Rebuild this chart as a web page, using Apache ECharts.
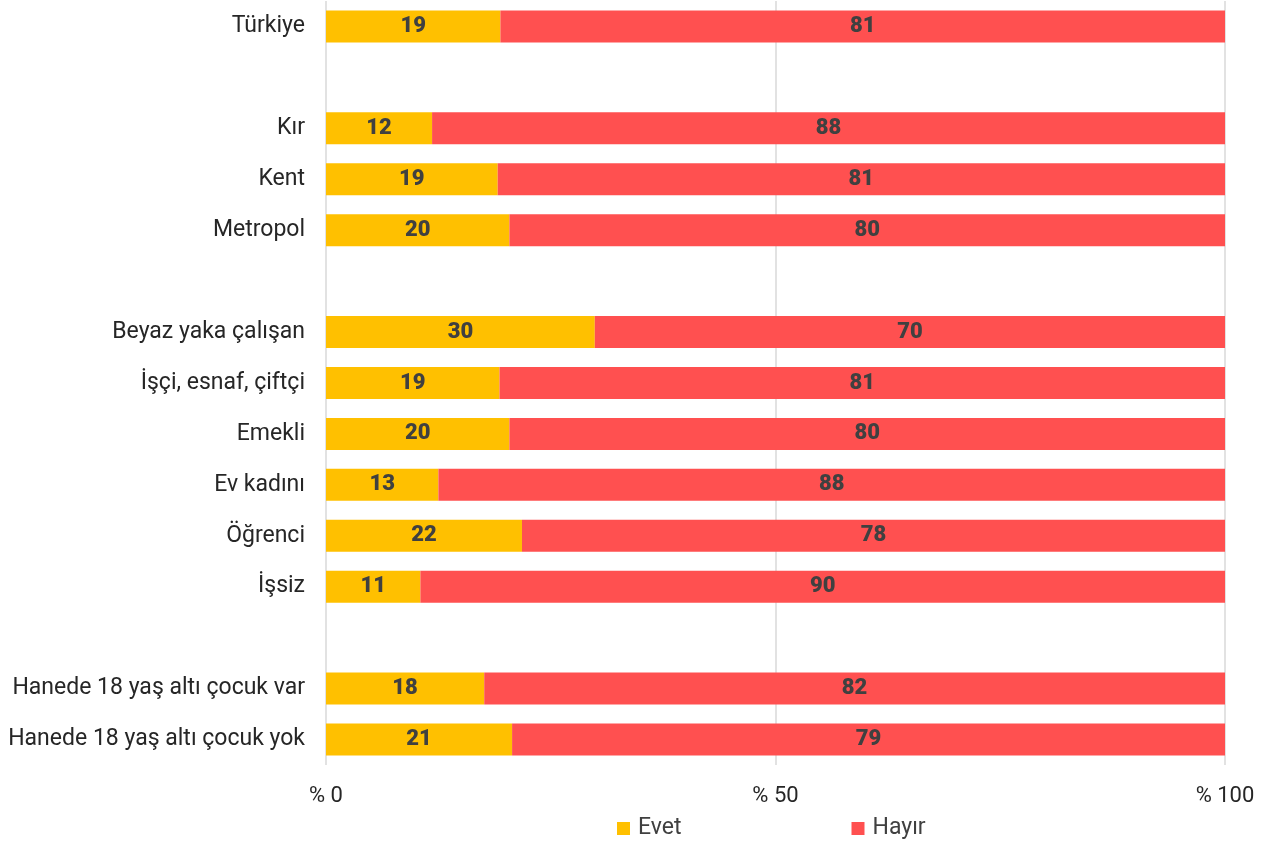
<!DOCTYPE html>
<html>
<head>
<meta charset="utf-8">
<script src="https://cdn.jsdelivr.net/npm/echarts@6/dist/echarts.min.js"></script>
<style>html,body{margin:0;padding:0;background:#fff;}#c{width:1281px;height:844px;}</style>
</head>
<body>
<div id="c"></div>
<script>
const categories = ['Türkiye', '', 'Kır', 'Kent', 'Metropol', ' ', 'Beyaz yaka çalışan', 'İşçi, esnaf, çiftçi', 'Emekli', 'Ev kadını', 'Öğrenci', 'İşsiz', '  ', 'Hanede 18 yaş altı çocuk var', 'Hanede 18 yaş altı çocuk yok'];
const evet =  [19.4, null, 11.8, 19.1, 20.4, null, 29.9, 19.3, 20.4, 12.5, 21.8, 10.5, null, 17.6, 20.7];
const hayir = [80.6, null, 88.2, 80.9, 79.6, null, 70.1, 80.7, 79.6, 87.5, 78.2, 89.5, null, 82.4, 79.3];
const xTicks = [0, 50, 100];

const font = 'Roboto, "Liberation Sans", sans-serif';
const labelStyle = {
  show: true, position: 'inside', color: '#404040', fontFamily: font,
  fontWeight: 900, fontSize: 22,
  formatter: p => p.value == null ? '' : Math.round(p.value)
};
const chart = echarts.init(document.getElementById('c'), null, {renderer: 'canvas'});
chart.setOption({
  animation: false,
  grid: {left: 326, right: 56, top: 1, height: 764, containLabel: false},
  legend: {
    data: ['Evet', 'Hayır'], top: 812, left: 612, itemGap: 170,
    itemWidth: 13, itemHeight: 13, icon: 'rect',
    textStyle: {fontFamily: font, fontSize: 23, color: '#404040', padding: [0, 0, 0, 3]}
  },
  xAxis: {
    type: 'value', min: 0, max: 100, interval: 50,
    axisLine: {show: false}, axisTick: {show: false},
    splitLine: {show: true, lineStyle: {color: '#d9d9d9', width: 1.5}},
    axisLabel: {fontFamily: font, fontSize: 22, color: '#262626', margin: 20,
      formatter: v => xTicks.includes(v) ? '% ' + v : ''}
  },
  yAxis: {
    type: 'category', data: categories, inverse: true,
    axisLine: {show: false}, axisTick: {show: false},
    axisLabel: {fontFamily: font, fontSize: 23, color: '#262626', margin: 21}
  },
  series: [
    {name: 'Evet', type: 'bar', stack: 's', data: evet, barWidth: 32,
     itemStyle: {color: '#FFC000'}, label: labelStyle},
    {name: 'Hayır', type: 'bar', stack: 's', data: hayir, barWidth: 32,
     itemStyle: {color: '#FF5050'}, label: labelStyle}
  ]
});
</script>
</body>
</html>
